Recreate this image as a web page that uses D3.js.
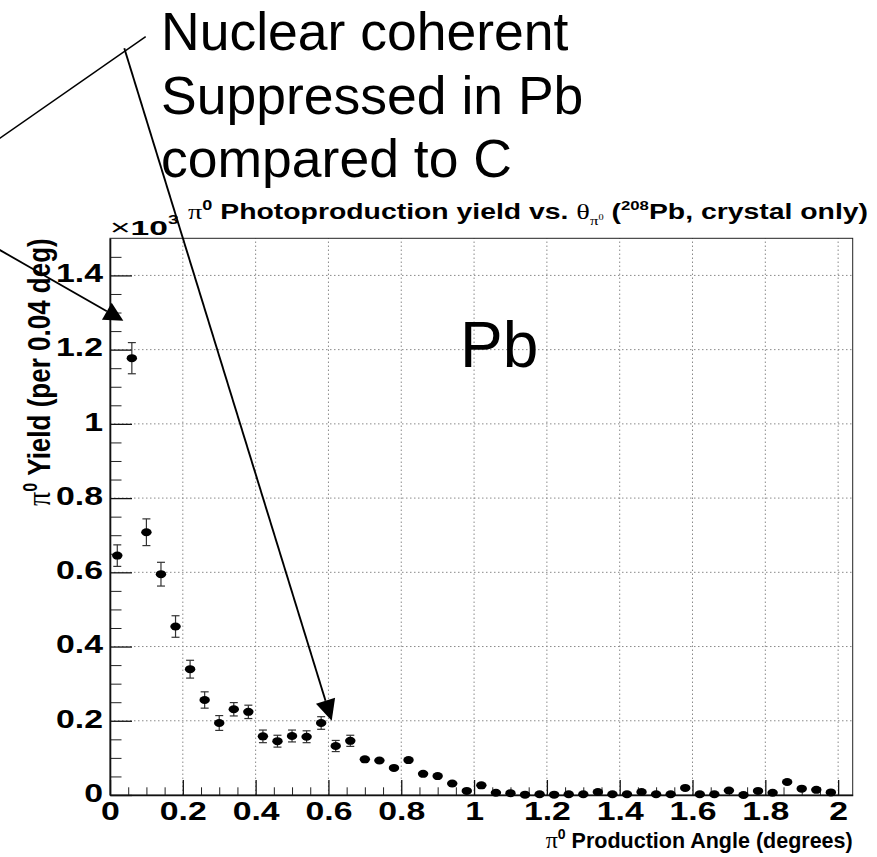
<!DOCTYPE html>
<html>
<head>
<meta charset="utf-8">
<script src="https://cdn.jsdelivr.net/npm/d3@7"></script>
<style>
  body { margin: 0; background: #fff; }
  svg { display: block; }
  .tick text { font-family: "Liberation Sans", Arial, Helvetica, sans-serif; font-weight: bold; }
</style>
</head>
<body>
<svg id="chart" width="877" height="857"></svg>
<script>
// π0 photoproduction yield per 0.04° bin (208Pb target, crystal calorimeter only), in units of 10^3
const binCentres = [
  0.02, 0.06, 0.10, 0.14, 0.18, 0.22, 0.26, 0.30, 0.34, 0.38,
  0.42, 0.46, 0.50, 0.54, 0.58, 0.62, 0.66, 0.70, 0.74, 0.78,
  0.82, 0.86, 0.90, 0.94, 0.98, 1.02, 1.06, 1.10, 1.14, 1.18,
  1.22, 1.26, 1.30, 1.34, 1.38, 1.42, 1.46, 1.50, 1.54, 1.58,
  1.62, 1.66, 1.70, 1.74, 1.78, 1.82, 1.86, 1.90, 1.94, 1.98
];
const yieldK = [
  0.645, 1.177, 0.708, 0.595, 0.454, 0.339, 0.256, 0.194, 0.231, 0.224,
  0.158, 0.145, 0.159, 0.157, 0.194, 0.132, 0.146, 0.096, 0.093, 0.073,
  0.094, 0.057, 0.051, 0.031, 0.011, 0.026, 0.006, 0.005, 0.001, 0.002,
  0.001, 0.002, 0.002, 0.008, 0.002, 0.002, 0.008, 0.002, 0.002, 0.019,
  0.002, 0.002, 0.012, 0.000, 0.011, 0.006, 0.035, 0.017, 0.014, 0.007
];
const yieldErrK = [
  0.029, 0.042, 0.036, 0.032, 0.029, 0.024, 0.022, 0.020, 0.018, 0.018,
  0.017, 0.016, 0.016, 0.016, 0.017, 0.015, 0.015, 0.011, 0.011, 0.010,
  0.011, 0.009, 0.008, 0.007, 0.004, 0.006, 0.003, 0.003, 0.001, 0.002,
  0.001, 0.002, 0.002, 0.003, 0.002, 0.002, 0.003, 0.002, 0.002, 0.005,
  0.002, 0.002, 0.004, 0.001, 0.004, 0.003, 0.006, 0.005, 0.004, 0.003
];
const xTickValues = [0, 0.2, 0.4, 0.6, 0.8, 1.0, 1.2, 1.4, 1.6, 1.8, 2.0];
const xTickLabels = ["0", "0.2", "0.4", "0.6", "0.8", "1", "1.2", "1.4", "1.6", "1.8", "2"];
const yTickValues = [0, 0.2, 0.4, 0.6, 0.8, 1.0, 1.2, 1.4];
const yTickLabels = ["0", "0.2", "0.4", "0.6", "0.8", "1", "1.2", "1.4"];
const noteLines = ["Nuclear coherent", "Suppressed in Pb", "compared to C"];
const targetLabel = "Pb";

const sans = '"Liberation Sans", Arial, Helvetica, sans-serif';
const serif = '"Liberation Serif", "Times New Roman", serif';
const wide = 1.3; // horizontal stretch of the axis lettering

const svg = d3.select("#chart");
const frame = { left: 110, right: 852.7, top: 238.3, bottom: 795 };

const x = d3.scaleLinear().domain([0, 2.04]).range([frame.left, frame.right]);
const y = d3.scaleLinear().domain([0, 1.5]).range([frame.bottom, frame.top]);

// dotted grid at major ticks
const grid = svg.append("g").attr("stroke", "#8a8a8a").attr("stroke-width", 1)
  .attr("stroke-dasharray", "1.5,2.5");
grid.selectAll("line.gx").data(xTickValues.filter(v => v > 0)).join("line")
  .attr("x1", d => x(d)).attr("x2", d => x(d))
  .attr("y1", frame.bottom).attr("y2", frame.top);
grid.selectAll("line.gy").data(yTickValues.filter(v => v > 0)).join("line")
  .attr("x1", frame.left).attr("x2", frame.right)
  .attr("y1", d => y(d)).attr("y2", d => y(d));

// frame (top and right)
svg.append("rect")
  .attr("x", frame.left).attr("y", frame.top)
  .attr("width", frame.right - frame.left).attr("height", frame.bottom - frame.top)
  .attr("fill", "none").attr("stroke", "#222").attr("stroke-width", 1);

// minor ticks
const xMinor = d3.range(0.05, 2.04, 0.05).filter(v => Math.abs(v / 0.2 - Math.round(v / 0.2)) > 1e-6);
const yMinor = d3.range(0.05, 1.5, 0.05).filter(v => Math.abs(v / 0.2 - Math.round(v / 0.2)) > 1e-6);

svg.append("g").attr("transform", `translate(0,${frame.bottom})`)
  .call(d3.axisBottom(x).tickValues(xMinor).tickSize(-7.7).tickSizeOuter(0).tickFormat(""))
  .call(g => g.select(".domain").remove())
  .call(g => g.selectAll("line").attr("stroke", "#222"));
svg.append("g").attr("transform", `translate(${frame.left},0)`)
  .call(d3.axisLeft(y).tickValues(yMinor).tickSize(-11.5).tickSizeOuter(0).tickFormat(""))
  .call(g => g.select(".domain").remove())
  .call(g => g.selectAll("line").attr("stroke", "#222"));

// major axes
const labelPad = 7;
const xAxis = svg.append("g").attr("transform", `translate(0,${frame.bottom})`)
  .call(d3.axisBottom(x).tickValues(xTickValues).tickSize(-15).tickSizeOuter(0).tickPadding(labelPad)
    .tickFormat((d, i) => xTickLabels[i]));
xAxis.select(".domain").attr("stroke", "#111").attr("stroke-width", 1.6);
xAxis.selectAll(".tick line").attr("stroke", "#111").attr("stroke-width", 1.3);
xAxis.selectAll(".tick text").attr("font-size", 26).attr("fill", "#000")
  .attr("transform", `scale(${wide},1)`);

const yAxis = svg.append("g").attr("transform", `translate(${frame.left},0)`)
  .call(d3.axisLeft(y).tickValues(yTickValues).tickSize(-22).tickSizeOuter(0).tickPadding(labelPad)
    .tickFormat((d, i) => yTickLabels[i]));
yAxis.select(".domain").attr("stroke", "#111").attr("stroke-width", 1.6);
yAxis.selectAll(".tick line").attr("stroke", "#111").attr("stroke-width", 1.3);
yAxis.selectAll(".tick text").attr("font-size", 26).attr("fill", "#000").attr("dy", "0.24em")
  .attr("x", -labelPad / wide).attr("transform", `scale(${wide},1)`);

// ×10^3 exponent label
const expo = svg.append("text").attr("transform", "translate(110,235) scale(1.6,1)")
  .attr("font-family", sans).attr("fill", "#000");
expo.append("tspan").attr("font-size", 22).text("×");
expo.append("tspan").attr("font-size", 21).attr("font-weight", "bold").text("10");
expo.append("tspan").attr("font-size", 12).attr("font-weight", "bold").attr("dy", -11).text("3");

// title
const title = svg.append("text").attr("transform", "translate(188,219) scale(1.29,1)")
  .attr("font-family", sans).attr("font-size", 22).attr("font-weight", "bold").attr("fill", "#000");
title.append("tspan").attr("font-family", serif).attr("font-weight", "normal").attr("font-size", 22).text("π");
title.append("tspan").attr("font-size", 14).attr("dy", -9).text("0");
title.append("tspan").attr("dy", 9).text(" Photoproduction yield vs. ");
title.append("tspan").attr("font-family", serif).attr("font-weight", "normal").attr("font-size", 22).text("θ");
title.append("tspan").attr("font-family", serif).attr("font-weight", "normal").attr("font-size", 13).attr("dy", 6).text("π");
title.append("tspan").attr("font-family", serif).attr("font-weight", "normal").attr("font-size", 8).attr("dy", -5).text("0");
title.append("tspan").attr("dy", -1).text(" (");
title.append("tspan").attr("font-size", 13).attr("dy", -9).text("208");
title.append("tspan").attr("dy", 9).text("Pb, crystal only)");

// x-axis title
const xTitle = svg.append("text").attr("x", frame.right).attr("y", 848).attr("text-anchor", "end")
  .attr("font-family", sans).attr("font-size", 21.5).attr("font-weight", "bold").attr("fill", "#000");
xTitle.append("tspan").attr("font-family", serif).attr("font-weight", "normal").attr("font-size", 24).text("π");
xTitle.append("tspan").attr("font-size", 14).attr("dy", -9).text("0");
xTitle.append("tspan").attr("dy", 9).text(" Production Angle (degrees)");

// y-axis title
const yTitle = svg.append("text").attr("transform", `translate(50,${frame.top}) scale(1.22,1) rotate(-90)`)
  .attr("text-anchor", "end").attr("font-family", sans).attr("font-size", 26)
  .attr("font-weight", "bold").attr("fill", "#000");
yTitle.append("tspan").attr("font-family", serif).attr("font-weight", "normal").attr("font-size", 28).text("π");
yTitle.append("tspan").attr("font-size", 16).attr("dy", -11).text("0");
yTitle.append("tspan").attr("dy", 11).text(" Yield (per 0.04 deg)");

// error bars with end caps (only the part outside the marker is visible)
const mrx = 5.2, mry = 4;
const pts = binCentres.map((a, i) => ({ a, v: yieldK[i], e: yieldErrK[i] }));
const errG = svg.append("g").attr("stroke", "#333").attr("stroke-width", 1.2);
pts.filter(p => y(p.v) - y(p.v + p.e) > mry + 1).forEach(p => {
  const cx = x(p.a);
  const yt = y(p.v + p.e), yb = y(p.v - p.e);
  errG.append("line").attr("x1", cx).attr("x2", cx).attr("y1", yt).attr("y2", yb);
  errG.append("line").attr("x1", cx - 4).attr("x2", cx + 4).attr("y1", yt).attr("y2", yt);
  errG.append("line").attr("x1", cx - 4).attr("x2", cx + 4).attr("y1", yb).attr("y2", yb);
});

// markers
svg.append("g").selectAll("ellipse").data(pts).join("ellipse")
  .attr("cx", p => x(p.a)).attr("cy", p => y(p.v))
  .attr("rx", mrx).attr("ry", mry).attr("fill", "#000");

// in-plot target label
svg.append("text").attr("x", 460).attr("y", 366.7).attr("font-family", sans)
  .attr("font-size", 64).attr("fill", "#000").text(targetLabel);

// annotation text block
svg.append("g").selectAll("text").data(noteLines).join("text")
  .attr("x", 161).attr("y", (d, i) => 50 + i * 63.5)
  .attr("font-family", sans).attr("font-size", 53.5).attr("fill", "#000").text(d => d);

// annotation pointer lines and arrows
const ann = svg.append("g").attr("stroke", "#000").attr("fill", "#000");
ann.append("line").attr("x1", -2).attr("y1", 139.5).attr("x2", 145.7).attr("y2", 36.7).attr("stroke-width", 1.5);

function arrow(x0, y0, x1, y1, width, headLen, headHalf) {
  const dx = x1 - x0, dy = y1 - y0, len = Math.hypot(dx, dy);
  const ux = dx / len, uy = dy / len;
  const bx = x1 - ux * headLen, by = y1 - uy * headLen;
  ann.append("line").attr("x1", x0).attr("y1", y0).attr("x2", bx).attr("y2", by).attr("stroke-width", width);
  ann.append("path").attr("stroke", "none")
    .attr("d", `M${x1},${y1}L${bx - uy * headHalf},${by + ux * headHalf}L${bx + uy * headHalf},${by - ux * headHalf}Z`);
}
// arrow to the coherent peak
arrow(-2, 249, x(0.0366), y(1.278), 1.8, 19, 9.8);
// arrow to the suppressed region
arrow(124.3, 48.3, x(0.609), y(0.2), 1.9, 21, 10);
</script>
</body>
</html>
